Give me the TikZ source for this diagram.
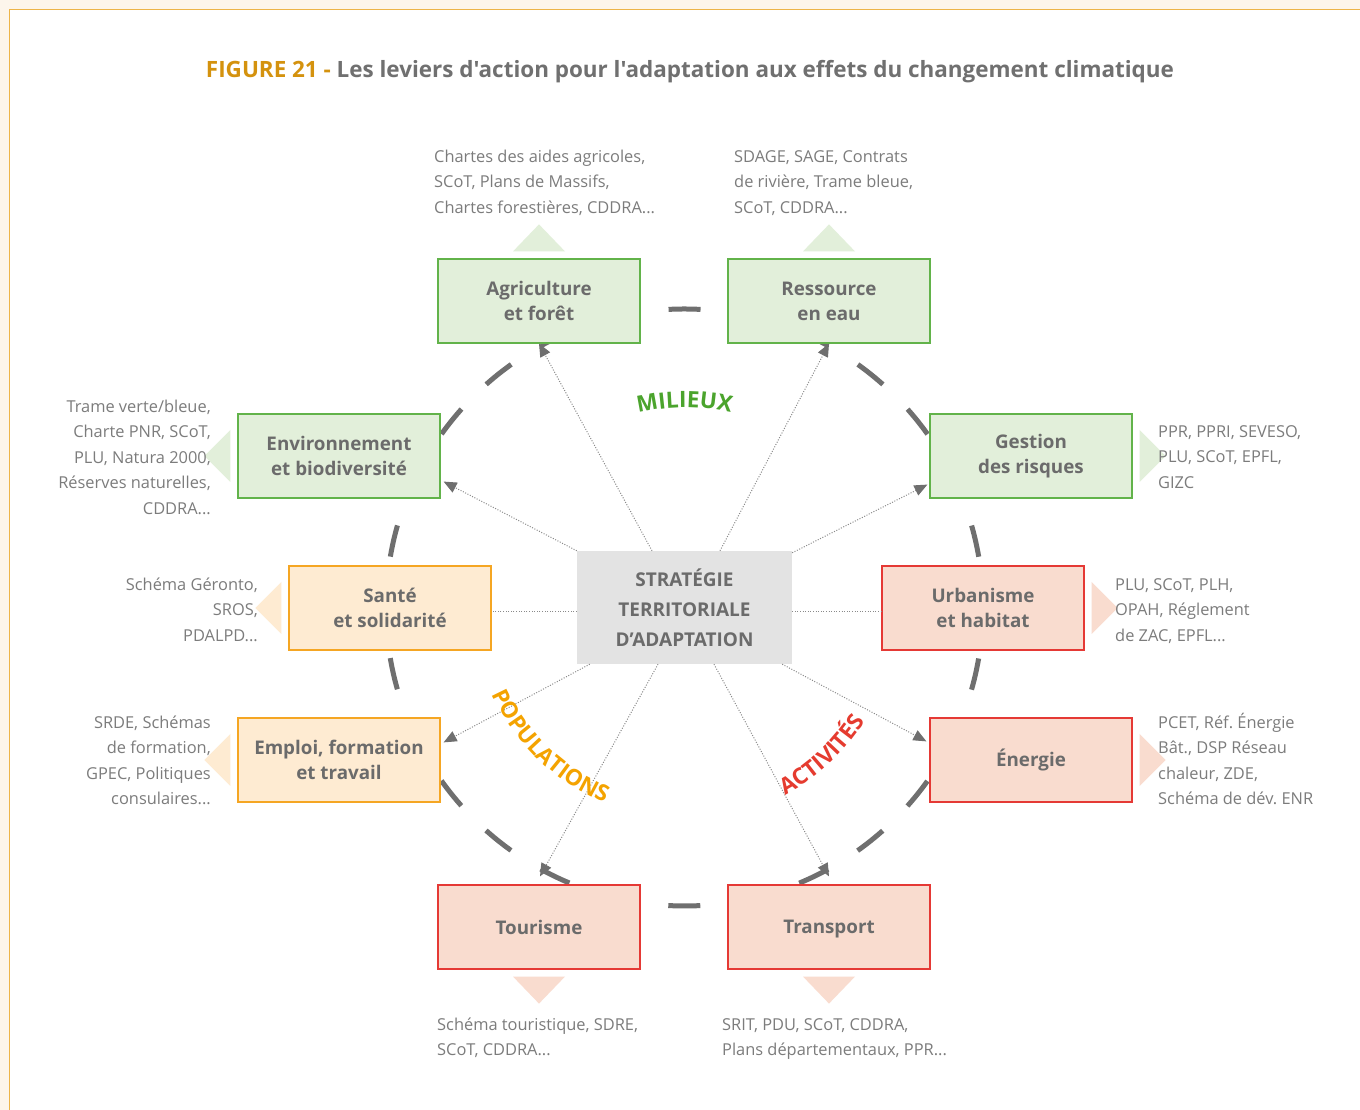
\documentclass[tikz,border=0pt]{standalone}
\usepackage{fontspec}
\setmainfont{Open Sans}[Ligatures=TeXOff]
\usetikzlibrary{arrows.meta,calc,decorations.text}

\definecolor{cream}{HTML}{FDF5EB}
\definecolor{frameorange}{HTML}{EDB449}
\definecolor{titleorange}{HTML}{D4920E}
\definecolor{titlegray}{HTML}{707070}
\definecolor{notegray}{HTML}{7C7C7C}
\definecolor{boxtext}{HTML}{6B6B6B}
\definecolor{ringgray}{HTML}{6F6F6F}
\definecolor{linegray}{HTML}{8A8A8A}
\definecolor{tipgray}{HTML}{6F6F6F}
\definecolor{gfill}{HTML}{E2EFDA}
\definecolor{gline}{HTML}{62B34A}
\definecolor{ofill}{HTML}{FEEBD2}
\definecolor{oline}{HTML}{F5A623}
\definecolor{rfill}{HTML}{F9DCCF}
\definecolor{rline}{HTML}{E53935}
\definecolor{cfill}{HTML}{E3E3E3}
\definecolor{milgreen}{HTML}{4BA42D}
\definecolor{poporange}{HTML}{F4A300}
\definecolor{actred}{HTML}{E53B2F}

\newcommand\notefont{\fontsize{16.4}{25.5}\selectfont\frenchspacing}
\newcommand\boxfont{\fontsize{18.8}{25}\selectfont\bfseries}
\newcommand\arcfont{\fontsize{22.5}{26}\selectfont\bfseries}
\newcommand\notetop{\rule{0pt}{17pt}}

\tikzset{
  box/.style={draw, line width=1.2, minimum width=202, minimum height=84,
    align=center, font=\boxfont, text=boxtext, inner sep=0},
  gbox/.style={box, fill=gfill, draw=gline},
  obox/.style={box, fill=ofill, draw=oline},
  rbox/.style={box, fill=rfill, draw=rline},
  hub/.style={fill=cfill, minimum width=215, minimum height=113, align=center,
    font=\fontsize{19}{30}\selectfont\bfseries, text=boxtext, inner sep=0},
  notel/.style={font=\notefont, text=notegray, inner sep=0, align=left, anchor=north west},
  noter/.style={font=\notefont, text=notegray, inner sep=0, align=right, anchor=north east},
  ring/.style={draw=ringgray, line width=5, dash pattern=on 32 off 34.98},
  conn/.style={draw=linegray, line width=1, dash pattern=on 1 off 1.6},
  arr/.style={conn, -{Triangle[length=13,width=11,color=tipgray]}},
  arclabel/.style={decorate, decoration={text along path, text align=center, text={#1}}}
}

\begin{document}
\begin{tikzpicture}[x=1pt,y=1pt]
\useasboundingbox (0,0) rectangle (1360,1110);
% page frame
\fill[cream] (0,0) rectangle (1360,1110);
\fill[white] (9.5,0) rectangle (1360,1100.5);
\draw[frameorange, line width=1.5] (9.5,0) -- (9.5,1100.5) -- (1360,1100.5);

% title
\node[anchor=base, font=\fontsize{22.45}{26}\selectfont\bfseries, text=titlegray, inner sep=0] (title) at (690,1032)
  {\textcolor{titleorange}{FIGURE 21 -} Les leviers d'action pour l'adaptation aux effets du changement climatique};

% dashed ring
\coordinate (C) at (684.5,502.5);
\draw[ring] (C) ++(-3.07:298.5) arc[start angle=-3.07, end angle=356.93, radius=298.5];

% boxes
\node[gbox] (agri) at (539,809) {Agriculture\\et forêt};
\node[gbox] (res)  at (829,809) {Ressource\\en eau};
\node[gbox] (env)  at (339,654) {Environnement\\et biodiversité};
\node[gbox] (ges)  at (1031,654) {Gestion\\des risques};
\node[obox] (san)  at (390,502) {Santé\\et solidarité};
\node[rbox] (urb)  at (983,502) {Urbanisme\\et habitat};
\node[obox] (emp)  at (339,350) {Emploi, formation\\et travail};
\node[rbox] (ene)  at (1031,350) {Énergie};
\node[rbox] (tou)  at (539,183) {Tourisme};
\node[rbox] (tra)  at (829,183) {\vphantom{T}\smash{Transport}};
\node[hub]  (ctr)  at (684.5,502.5) {STRATÉGIE\\TERRITORIALE\\D’ADAPTATION};

% pointers towards the instrument lists
\fill[gfill] ($(agri.north)+(-26,7)$) -- ($(agri.north)+(26,7)$) -- ($(agri.north)+(0,34)$) -- cycle;
\fill[gfill] ($(res.north)+(-26,7)$) -- ($(res.north)+(26,7)$) -- ($(res.north)+(0,34)$) -- cycle;
\fill[gfill] ($(env.west)+(-7,26)$) -- ($(env.west)+(-7,-26)$) -- ($(env.west)+(-33,0)$) -- cycle;
\fill[gfill] ($(ges.east)+(7,26)$) -- ($(ges.east)+(7,-26)$) -- ($(ges.east)+(33,0)$) -- cycle;
\fill[ofill] ($(san.west)+(-7,26)$) -- ($(san.west)+(-7,-26)$) -- ($(san.west)+(-33,0)$) -- cycle;
\fill[rfill] ($(urb.east)+(7,26)$) -- ($(urb.east)+(7,-26)$) -- ($(urb.east)+(33,0)$) -- cycle;
\fill[ofill] ($(emp.west)+(-7,26)$) -- ($(emp.west)+(-7,-26)$) -- ($(emp.west)+(-33,0)$) -- cycle;
\fill[rfill] ($(ene.east)+(7,26)$) -- ($(ene.east)+(7,-26)$) -- ($(ene.east)+(33,0)$) -- cycle;
\fill[rfill] ($(tou.south)+(-26,-7)$) -- ($(tou.south)+(26,-7)$) -- ($(tou.south)+(0,-34)$) -- cycle;
\fill[rfill] ($(tra.south)+(-26,-7)$) -- ($(tra.south)+(26,-7)$) -- ($(tra.south)+(0,-34)$) -- cycle;

% instrument lists
\node[notel] (agrinote) at (434,965) {\notetop Chartes des aides agricoles,\\SCoT, Plans de Massifs,\\Chartes forestières, CDDRA...};
\node[notel] (resnote) at (734,965) {\notetop SDAGE, SAGE, Contrats\\de rivière, Trame bleue,\\SCoT, CDDRA...};
\node[noter] (envnote) at (211,715) {\notetop Trame verte/bleue,\\Charte PNR, SCoT,\\PLU, Natura 2000,\\Réserves naturelles,\\CDDRA...};
\node[notel] (gesnote) at (1158,690) {\notetop PPR, PPRI, SEVESO,\\PLU, SCoT, EPFL,\\GIZC};
\node[noter] (sannote) at (258,537) {\notetop Schéma Géronto,\\SROS,\\PDALPD...};
\node[notel] (urbnote) at (1115,537) {\notetop PLU, SCoT, PLH,\\OPAH, Réglement\\de ZAC, EPFL...};
\node[noter] (empnote) at (211,399) {\notetop SRDE, Schémas\\de formation,\\GPEC, Politiques\\consulaires...};
\node[notel] (enenote) at (1158,399) {\notetop PCET, Réf. Énergie\\Bât., DSP Réseau\\chaleur, ZDE,\\Schéma de dév. ENR};
\node[notel] (tounote) at (437,97) {\notetop Schéma touristique, SDRE,\\SCoT, CDDRA...};
\node[notel] (tranote) at (722,97) {\notetop SRIT, PDU, SCoT, CDDRA,\\Plans départementaux, PPR...};

% links from the strategy to each lever
\draw[arr] ($(ctr.north)+(-32.5,0)$) -- (agri.south);
\draw[arr] ($(ctr.north)+(35.5,0)$) -- (res.south);
\draw[arr] (ctr.north west) -- ($(env.south east)+(3,17)$);
\draw[arr] ($(ctr.north east)+(0,-2)$) -- ($(ges.south west)+(-2,14)$);
\draw[conn] ($(ctr.west)+(0,-4)$) -- ($(ctr.west -| san.east)+(0,-4)$);
\draw[conn] ($(ctr.east)+(0,-4)$) -- ($(ctr.east -| urb.west)+(0,-4)$);
\draw[arr] ($(ctr.south west)+(13,0)$) -- ($(emp.north east)+(3,-25)$);
\draw[arr] ($(ctr.south east)+(-10,0)$) -- ($(ene.north west)+(-3,-24)$);
\draw[arr] ($(ctr.south)+(-26.5,0)$) -- ($(tou.north)+(1,8)$);
\draw[arr] ($(ctr.south)+(29.5,0)$) -- ($(tra.north)+(0,8)$);

% sector labels along the ring
\path[arclabel={|\arcfont\color{milgreen}|MILIEUX}] (C) ++(120:200) arc[start angle=120, end angle=60, radius=200];
\path[arclabel={|\arcfont\color{poporange}|POPULATIONS}] (C) ++(196:211) arc[start angle=196, end angle=256, radius=211];
\path[arclabel={|\arcfont\color{actred}|ACTIVITÉS}] (C) ++(283:213) arc[start angle=283, end angle=343, radius=213];
\end{tikzpicture}
\end{document}
